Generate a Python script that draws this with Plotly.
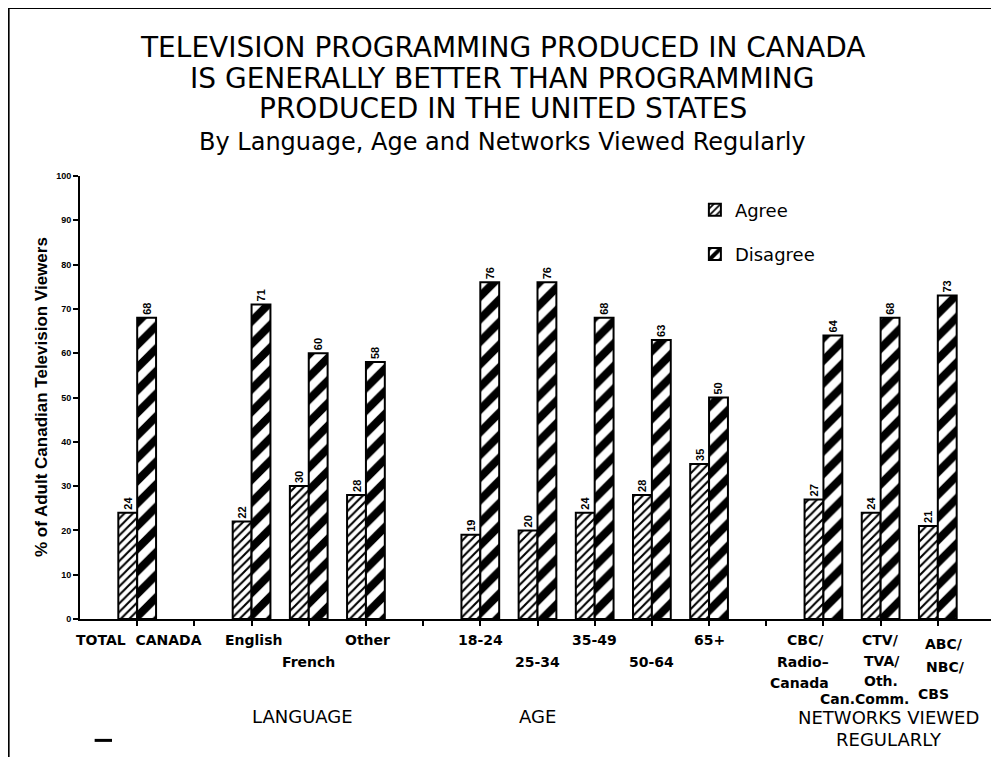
import plotly.graph_objects as go

# category slots, blanks keep the gaps between the groups
categories = ["TOTAL CANADA", " ", "English", "French", "Other", "  ",
              "18-24", "25-34", "35-49", "50-64", "65+", "   ",
              "CBC", "CTV", "ABC"]
agree = [24, None, 22, 30, 28, None, 19, 20, 24, 28, 35, None, 27, 24, 21]
disagree = [68, None, 71, 60, 58, None, 76, 76, 68, 63, 50, None, 64, 68, 73]

# (category, text, pixels below the axis, xshift)
tick_labels = [
    ("TOTAL CANADA", "TOTAL  CANADA", 21, 2),
    ("English", "English", 21, 2),
    ("French", "French", 43, 0),
    ("Other", "Other", 21, 2),
    ("18-24", "18-24", 21, 0),
    ("25-34", "25-34", 43, 0),
    ("35-49", "35-49", 21, 0),
    ("50-64", "50-64", 43, 0),
    ("65+", "65+", 21, 0),
    ("CBC", "CBC/", 21, -18),
    ("CBC", "Radio–", 43, -20),
    ("CBC", "Canada", 64, -24),
    ("CTV", "CTV/", 21, 0),
    ("CTV", "TVA/", 42, 1),
    ("CTV", "Oth.", 62, 0),
    ("CTV", "Can.Comm.", 80, -16),
    ("ABC", "ABC/", 25, 6),
    ("ABC", "NBC/", 48, 8),
    ("ABC", "CBS", 75, -4),
]
group_labels = [
    ("French", "LANGUAGE", 97, -6),
    ("25-34", "AGE", 97, 0),
    ("CTV", "NETWORKS VIEWED", 98, 8),
    ("CTV", "REGULARLY", 120, 8),
]

label_font = dict(family="DejaVu Sans", size=14, color="black", weight="bold")
value_font = dict(family="Liberation Sans", size=11, color="black", weight="bold")

fig = go.Figure()
fig.add_trace(go.Bar(
    x=categories, y=agree, name="Agree", legendgroup="a",
    marker=dict(color="white", line=dict(color="black", width=2),
                pattern=dict(shape="/", fgcolor="black", bgcolor="white",
                             fgopacity=1, size=6, solidity=0.35)),
    texttemplate="%{y}", textposition="outside", textangle=-90,
    constraintext="none", cliponaxis=False, textfont=value_font,
))
fig.add_trace(go.Bar(
    x=categories, y=disagree, name="Disagree", legendgroup="d",
    marker=dict(color="white", line=dict(color="black", width=2),
                pattern=dict(shape="/", fgcolor="black", bgcolor="white",
                             fgopacity=1, size=16, solidity=0.5)),
    texttemplate="%{y}", textposition="outside", textangle=-90,
    constraintext="none", cliponaxis=False, textfont=value_font,
))

fig.update_layout(
    width=999, height=757,
    margin=dict(l=72, r=12, t=168, b=146),
    paper_bgcolor="white", plot_bgcolor="white",
    barmode="group", bargap=0.34, bargroupgap=0,
    font=dict(family="DejaVu Sans", color="black"),
    showlegend=True,
    legend=dict(x=0.672, y=0.965, xanchor="left", yanchor="top",
                font=dict(family="DejaVu Sans", size=18),
                bgcolor="rgba(0,0,0,0)", tracegroupgap=18,
                traceorder="grouped"),
)

fig.update_xaxes(type="category", categoryorder="array", categoryarray=categories,
                 range=[-1, 15], showgrid=False, zeroline=False,
                 showline=True, linecolor="black", linewidth=2,
                 ticks="outside", ticklen=5, tickwidth=2, tickcolor="black",
                 showticklabels=False)
fig.update_yaxes(range=[0, 100], tickvals=list(range(0, 101, 10)),
                 showgrid=False, zeroline=False,
                 showline=True, linecolor="black", linewidth=2,
                 ticks="outside", ticklen=5, tickwidth=2, tickcolor="black",
                 tickfont=dict(family="Liberation Sans", size=9, color="black", weight="bold"))

# title lines
titles = [
    ("TELEVISION PROGRAMMING PRODUCED IN CANADA", 1.291, 28),
    ("IS GENERALLY BETTER THAN PROGRAMMING", 1.221, 28),
    ("PRODUCED IN THE UNITED STATES", 1.153, 28),
    ("By Language, Age and Networks Viewed Regularly", 1.077, 24),
]
for text, ypos, size in titles:
    fig.add_annotation(text=text, x=0.462, y=ypos, xref="paper", yref="paper",
                       xanchor="center", yanchor="middle", showarrow=False,
                       font=dict(family="DejaVu Sans", size=size))

for cat, text, dy, dx in tick_labels:
    fig.add_annotation(text=text, x=cat, y=0, xref="x", yref="y",
                       xanchor="center", yanchor="middle",
                       yshift=-dy, xshift=dx, showarrow=False, font=label_font)

for cat, text, dy, dx in group_labels:
    fig.add_annotation(text=text, x=cat, y=0, xref="x", yref="y",
                       xanchor="center", yanchor="middle", yshift=-dy, xshift=dx,
                       showarrow=False, font=dict(family="DejaVu Sans", size=18))

fig.add_annotation(text="<b>% of Adult Canadian Television Viewers</b>",
                   x=-0.042, y=0.5, xref="paper", yref="paper", textangle=-90,
                   xanchor="center", yanchor="middle",
                   showarrow=False, font=dict(family="Liberation Sans", size=17))

# closing tick at the end of the category axis
fig.add_shape(type="line", xref="paper", yref="paper", x0=1, x1=1, y0=0.011, y1=-0.011,
              line=dict(color="black", width=2))

# scanned page frame
frame = dict(color="black", width=2)
fig.add_shape(type="line", xref="paper", yref="paper", x0=-0.079, x1=1.02, y0=1.379, y1=1.379, line=frame)
fig.add_shape(type="line", xref="paper", yref="paper", x0=-0.078, x1=-0.078, y0=1.379, y1=-0.32, line=frame)
fig.add_shape(type="line", xref="paper", yref="paper", x0=1.002, x1=1.002, y0=1.379, y1=-0.05, line=frame)
fig.add_shape(type="line", xref="paper", yref="paper", x0=0.016, x1=0.035, y0=-0.274, y1=-0.274, line=dict(color="black", width=3))

fig.write_html("out.html")
